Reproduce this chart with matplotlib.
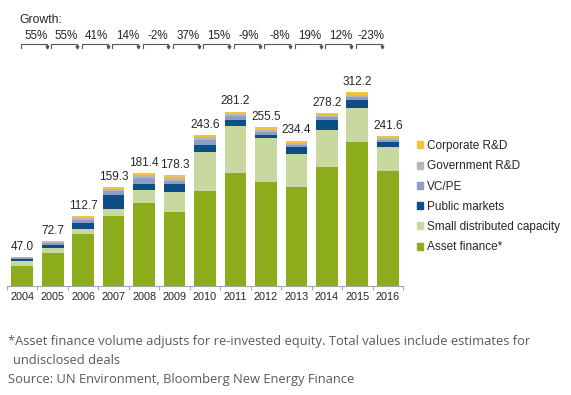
import matplotlib
matplotlib.use("Agg")
import matplotlib.pyplot as plt
from matplotlib.patches import Patch

plt.rcParams['font.family'] = ['Liberation Sans', 'DejaVu Sans']

years = ['2004', '2005', '2006', '2007', '2008', '2009', '2010',
         '2011', '2012', '2013', '2014', '2015', '2016']
totals = [47.0, 72.7, 112.7, 159.3, 181.4, 178.3, 243.6,
          281.2, 255.5, 234.4, 278.2, 312.2, 241.6]
growth = ['55%', '55%', '41%', '14%', '-2%', '37%', '15%',
          '-9%', '-8%', '19%', '12%', '-23%']

# segments, bottom to top
asset_finance = [33.0, 52.5, 84.0, 112.4, 133.0, 118.8, 153.9,
                 182.0, 167.4, 159.0, 191.6, 231.8, 184.8]
small_distributed = [8.0, 9.0, 8.0, 12.3, 22.0, 32.7, 62.0,
                     76.0, 71.0, 53.5, 60.0, 54.6, 38.5]
public_markets = [2.0, 4.0, 10.0, 22.5, 10.0, 12.8, 10.7,
                  9.6, 4.3, 11.2, 16.0, 13.4, 8.0]
vc_pe = [1.5, 3.0, 5.0, 6.4, 9.6, 5.0, 9.0,
         6.4, 4.8, 3.7, 4.0, 5.0, 4.3]
government_rd = [1.5, 2.2, 3.2, 2.6, 3.5, 4.5, 4.0,
                 3.6, 4.3, 3.5, 3.3, 3.7, 3.0]
corporate_rd = [1.0, 2.0, 2.5, 3.1, 3.3, 4.5, 4.0,
                3.6, 3.7, 3.5, 3.3, 3.7, 3.0]

series = [
    ('Asset finance*', asset_finance, '#8CAC1C'),
    ('Small distributed capacity', small_distributed, '#C9D89F'),
    ('Public markets', public_markets, '#0B4F86'),
    ('VC/PE', vc_pe, '#8E9DC6'),
    ('Government R&D', government_rd, '#B7B7B7'),
    ('Corporate R&D', corporate_rd, '#F2C43C'),
]

W, H = 571, 395
fig = plt.figure(figsize=(W / 100, H / 100), dpi=100)
# axes placed in pixel terms: x 7..403, baseline at y=286, top at y=60
ax = fig.add_axes([7 / W, (H - 286) / H, 396 / W, 226 / H])

x = list(range(len(years)))
bottom = [0.0] * len(years)
handles = []
for name, vals, col in series:
    ax.bar(x, vals, width=0.71, bottom=bottom, color=col, linewidth=0)
    bottom = [b + v for b, v in zip(bottom, vals)]
    handles.append(Patch(color=col, label=name))

for xi, t in zip(x, totals):
    ax.annotate(f'{t:.1f}', (xi, t), xytext=(0, 3), textcoords='offset points',
                ha='center', va='bottom', fontsize=8.5, color='#262626')

ax.set_xlim(-0.5, len(years) - 0.5)
ax.set_ylim(0, 226 / 0.6205)
ax.set_yticks([])
for s in ['top', 'right', 'left']:
    ax.spines[s].set_visible(False)
ax.spines['bottom'].set_color('#A6A6A6')
ax.spines['bottom'].set_linewidth(0.8)
ax.set_xticks(x)
ax.set_xticklabels(years, fontsize=7.8, color='#262626')
ax.tick_params(axis='x', which='major', length=0, pad=4)
ax.set_xticks([i - 0.5 for i in range(len(years) + 1)], minor=True)
ax.tick_params(axis='x', which='minor', length=3, color='#A6A6A6', width=0.8)

# growth row with brackets
tr = ax.get_xaxis_transform()
ax.text(-0.1, 1.175, 'Growth:', transform=tr, fontsize=8.8, color='#262626',
        ha='left', va='center', clip_on=False)
for i, g in enumerate(growth):
    ax.text(i + 0.45, 1.106, g, transform=tr, fontsize=8.4, color='#262626',
            ha='center', va='center', clip_on=False)
    x0, x1 = i - 0.05, i + 0.8
    ax.plot([x0, x0, x1, x1], [1.055, 1.07, 1.07, 1.055], transform=tr,
            color='#555555', lw=0.8, clip_on=False, solid_joinstyle='miter')
    ax.plot([x1], [1.056], transform=tr, marker='v', markersize=2,
            color='#555555', clip_on=False)

ax.legend(handles=handles[::-1], loc='upper left',
          bbox_to_anchor=(417 / W, 1 - 140 / H), bbox_transform=fig.transFigure,
          frameon=False, fontsize=8.5, handlelength=0.55, handleheight=0.55,
          handletextpad=0.3, labelspacing=0.7, borderaxespad=0, borderpad=0,
          labelcolor='#262626')

foot = dict(fontsize=9.3, color='#595959', family=['Open Sans', 'DejaVu Sans'],
            ha='left', va='center')
fig.text(8 / W, 1 - 342 / H,
         '*Asset finance volume adjusts for re-invested equity. Total values include estimates for',
         **foot)
fig.text(13 / W, 1 - 360 / H, 'undisclosed deals', **foot)
fig.text(8 / W, 1 - 380 / H, 'Source: UN Environment, Bloomberg New Energy Finance', **foot)

fig.savefig('out.png', dpi=100)
